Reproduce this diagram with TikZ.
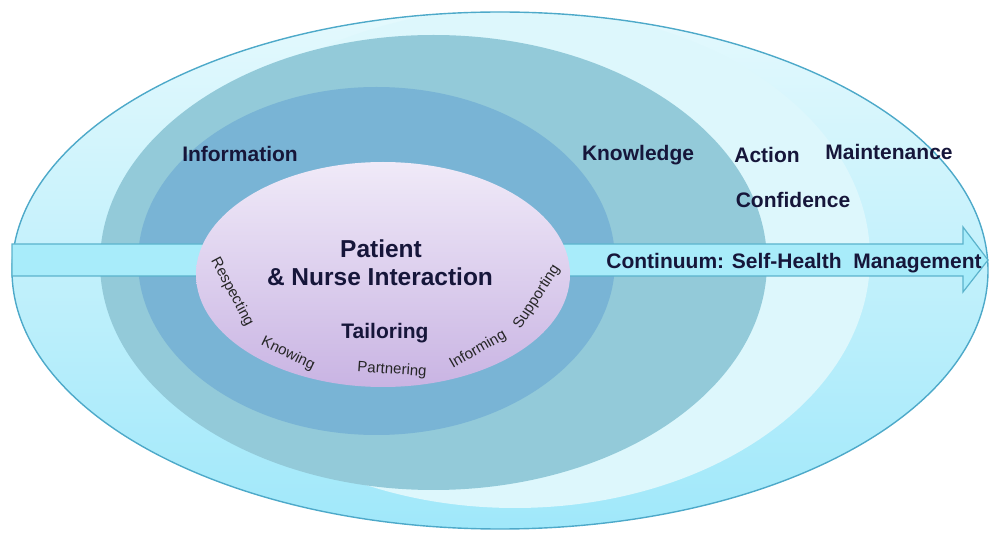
\documentclass[tikz,border=0pt]{standalone}
\usepackage{fontspec}
\setmainfont{Liberation Sans}
\definecolor{rimline}{HTML}{4DA9C9}
\definecolor{outertop}{HTML}{E4F9FD}
\definecolor{outerbot}{HTML}{A0E8FA}
\definecolor{paleband}{HTML}{DDF7FC}
\definecolor{tealring}{HTML}{93CAD9}
\definecolor{bluering}{HTML}{79B4D5}
\definecolor{lilactop}{HTML}{F0EAF8}
\definecolor{lilacbot}{HTML}{C9B4E3}
\definecolor{arrowfill}{HTML}{A8ECFA}
\definecolor{arrowline}{HTML}{5BB3CC}
\definecolor{inktext}{HTML}{16163A}
\tikzset{
	stage/.style={font=\fontsize{21}{24}\selectfont\bfseries, text=inktext, inner sep=0pt, anchor=base},
	core/.style={font=\fontsize{24.5}{28}\selectfont\bfseries, text=inktext, inner sep=0pt, anchor=base},
	arcword/.style={font=\fontsize{15}{17}\selectfont, text=black!85, inner sep=0pt}
}

\begin{document}
\begin{tikzpicture}[x=1pt,y=-1pt]
				\useasboundingbox (0,0) rectangle (989,537);
				
				\shade[top color=outertop, bottom color=outerbot] (500,270.5) ellipse [x radius=488, y radius=258.5];
				\begin{scope}
					\clip (500,270.5) ellipse [x radius=488, y radius=258.5];
					\fill[paleband] (515,258) ellipse [x radius=355, y radius=250];
				\end{scope}
				\draw[rimline, line width=1.4pt] (500,270.5) ellipse [x radius=488, y radius=258.5];
				
				\fill[tealring] (433.5,262.5) ellipse [x radius=333.5, y radius=227.5];
				\fill[bluering] (376.5,261) ellipse [x radius=238.5, y radius=174];
				
				\draw[arrowline, fill=arrowfill, line width=1.2pt] (12,244) -- (963,244) -- (963,227) -- (988,260) -- (963,292) -- (963,276) -- (12,276) -- cycle;
				
				\shade[top color=lilactop, bottom color=lilacbot] (383,274.5) ellipse [x radius=187, y radius=112.5];
				
				\node[stage] (info) at (240,162) {Information};
				\node[stage] (know) at (638,160.5) {Knowledge};
				\node[stage] (act) at (767,162.5) {Action};
				\node[stage] (maint) at (889,159.5) {Maintenance};
				\node[stage] (conf) at (793,207.5) {Confidence};
				\node[stage] (cont) at (794,268.5) {Continuum: Self-Health\ \ Management};
				
				\node[core] (pat) at (381,258) {Patient};
				\node[core] (nurse) at (380,286) {\& Nurse Interaction};
				\node[stage] (tail) at (385,339) {Tailoring};
				
				\node[arcword, rotate=-62] (resp) at (232,292) {Respecting};
				\node[arcword, rotate=-26] (knowing) at (288,354) {Knowing};
				\node[arcword, rotate=-4] (partner) at (392,370) {Partnering};
				\node[arcword, rotate=30] (inform) at (478,350) {Informing};
				\node[arcword, rotate=57] (support) at (537,297) {Supporting};
			\end{tikzpicture}
\end{document}
